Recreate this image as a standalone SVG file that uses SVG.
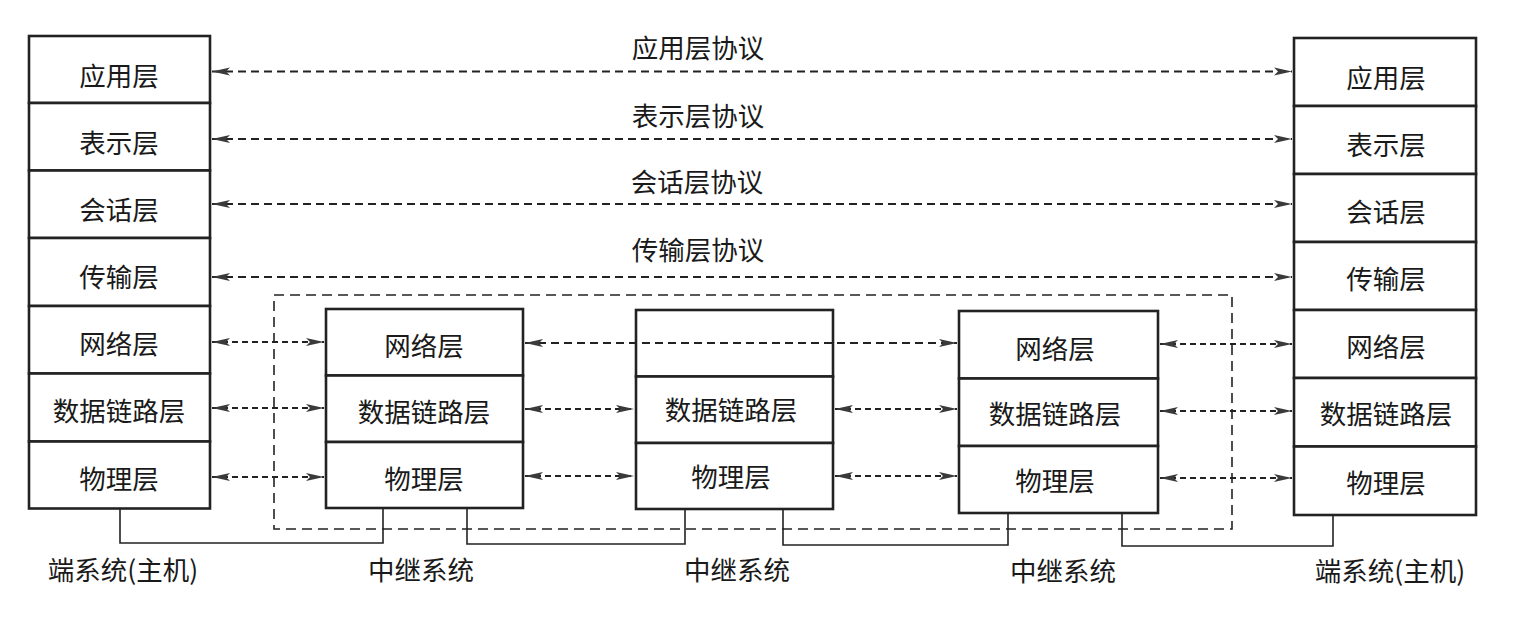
<svg xmlns="http://www.w3.org/2000/svg" width="1532" height="620" viewBox="0 0 1532 620">
<style>
.box{fill:#fff;stroke:#222;stroke-width:2.6}
.t{font-family:"Noto Sans CJK SC","Liberation Sans",sans-serif;font-size:26.5px;fill:#1a1a1a;text-anchor:middle;dominant-baseline:central}
.proto{stroke:#222;stroke-width:2.2;stroke-dasharray:8 5;fill:none}
.arr{stroke:#222;stroke-width:2.2;stroke-dasharray:6 4;fill:none}
.frame{stroke:#222;stroke-width:1.6;stroke-dasharray:10 6;fill:none}
.wire{stroke:#222;stroke-width:1.6;fill:none}
</style>
<defs>
<marker id="ah" viewBox="0 0 18 9" refX="18" refY="4.5" markerWidth="18" markerHeight="9" markerUnits="userSpaceOnUse" orient="auto-start-reverse">
<path d="M0,0.5 L18,4.5 L0,8.5 L4,4.5 Z" fill="#3a3a3a"/>
</marker>
</defs>
<rect width="1532" height="620" fill="#fff"/>

<g id="host-left">
<rect class="box" x="29" y="36" width="181" height="67"/>
<rect class="box" x="29" y="103" width="181" height="67.5"/>
<rect class="box" x="29" y="170.5" width="181" height="67.5"/>
<rect class="box" x="29" y="238" width="181" height="68"/>
<rect class="box" x="29" y="306" width="181" height="67.5"/>
<rect class="box" x="29" y="373.5" width="181" height="68"/>
<rect class="box" x="29" y="441.5" width="181" height="67"/>
<text class="t" x="119" y="74">应用层</text>
<text class="t" x="119" y="141">表示层</text>
<text class="t" x="119" y="208">会话层</text>
<text class="t" x="119" y="275">传输层</text>
<text class="t" x="119" y="342">网络层</text>
<text class="t" x="119" y="409">数据链路层</text>
<text class="t" x="119" y="477">物理层</text>
<text class="t" x="123" y="568">端系统(主机)</text>
</g>

<g id="host-right">
<rect class="box" x="1294" y="38" width="182" height="68"/>
<rect class="box" x="1294" y="106" width="182" height="68"/>
<rect class="box" x="1294" y="174" width="182" height="68"/>
<rect class="box" x="1294" y="242" width="182" height="68"/>
<rect class="box" x="1294" y="310" width="182" height="68"/>
<rect class="box" x="1294" y="378" width="182" height="68.5"/>
<rect class="box" x="1294" y="446.5" width="182" height="68.5"/>
<text class="t" x="1386" y="76">应用层</text>
<text class="t" x="1386" y="143">表示层</text>
<text class="t" x="1386" y="210">会话层</text>
<text class="t" x="1386" y="277">传输层</text>
<text class="t" x="1386" y="345">网络层</text>
<text class="t" x="1386" y="412">数据链路层</text>
<text class="t" x="1386" y="481">物理层</text>
<text class="t" x="1390" y="569">端系统(主机)</text>
</g>

<g id="relay-1">
<rect class="box" x="326" y="309" width="197" height="66.5"/>
<rect class="box" x="326" y="375.5" width="197" height="66.5"/>
<rect class="box" x="326" y="442" width="197" height="66"/>
<text class="t" x="424" y="344">网络层</text>
<text class="t" x="424" y="410">数据链路层</text>
<text class="t" x="424" y="477">物理层</text>
<text class="t" x="421" y="568">中继系统</text>
</g>

<g id="relay-2">
<rect class="box" x="636" y="310" width="197" height="66.5"/>
<rect class="box" x="636" y="376.5" width="197" height="66.5"/>
<rect class="box" x="636" y="443" width="197" height="66"/>
<text class="t" x="731" y="408">数据链路层</text>
<text class="t" x="731" y="475">物理层</text>
<text class="t" x="737" y="568">中继系统</text>
</g>

<g id="relay-3">
<rect class="box" x="959" y="311" width="199" height="67.5"/>
<rect class="box" x="959" y="378.5" width="199" height="67.5"/>
<rect class="box" x="959" y="446" width="199" height="67"/>
<text class="t" x="1055" y="347">网络层</text>
<text class="t" x="1055" y="412">数据链路层</text>
<text class="t" x="1055" y="479">物理层</text>
<text class="t" x="1063" y="569">中继系统</text>
</g>

<g id="connectors">
<text class="t" x="698" y="46">应用层协议</text>
<text class="t" x="698" y="114">表示层协议</text>
<text class="t" x="697" y="180">会话层协议</text>
<text class="t" x="698" y="248">传输层协议</text>
<path class="proto" d="M212,71.5 H1292" marker-start="url(#ah)" marker-end="url(#ah)"/>
<path class="proto" d="M212,139 H1292" marker-start="url(#ah)" marker-end="url(#ah)"/>
<path class="proto" d="M212,204 H1292" marker-start="url(#ah)" marker-end="url(#ah)"/>
<path class="proto" d="M212,277 H1292" marker-start="url(#ah)" marker-end="url(#ah)"/>

<path class="arr" d="M212,342 H324" marker-start="url(#ah)" marker-end="url(#ah)"/>
<path class="arr" d="M212,408 H324" marker-start="url(#ah)" marker-end="url(#ah)"/>
<path class="arr" d="M212,477 H324" marker-start="url(#ah)" marker-end="url(#ah)"/>

<path class="proto" d="M525,343 H957" marker-start="url(#ah)" marker-end="url(#ah)"/>
<path class="arr" d="M525,409 H634" marker-start="url(#ah)" marker-end="url(#ah)"/>
<path class="arr" d="M525,476 H634" marker-start="url(#ah)" marker-end="url(#ah)"/>

<path class="arr" d="M835,409 H957" marker-start="url(#ah)" marker-end="url(#ah)"/>
<path class="arr" d="M835,476 H957" marker-start="url(#ah)" marker-end="url(#ah)"/>

<path class="arr" d="M1160,344 H1292" marker-start="url(#ah)" marker-end="url(#ah)"/>
<path class="arr" d="M1160,411 H1292" marker-start="url(#ah)" marker-end="url(#ah)"/>
<path class="arr" d="M1160,478 H1292" marker-start="url(#ah)" marker-end="url(#ah)"/>

<path class="frame" d="M274,295 H1232 V529 H274 Z"/>

<path class="wire" d="M120,509 V543 H383 V509"/>
<path class="wire" d="M467,509 V544 H685 V510"/>
<path class="wire" d="M783,510 V545 H1008 V514"/>
<path class="wire" d="M1122,514 V546 H1333 V516"/>
</g>
</svg>
